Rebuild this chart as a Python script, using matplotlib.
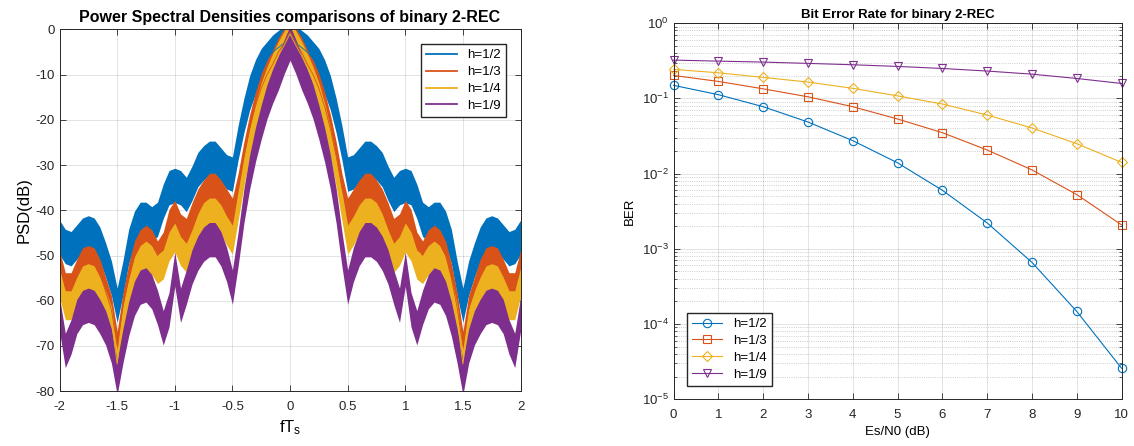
import numpy as np
import matplotlib
matplotlib.use('Agg')
import matplotlib.pyplot as plt
from matplotlib.lines import Line2D
from matplotlib.ticker import LogLocator, NullFormatter, FormatStrFormatter

plt.rcParams['font.family'] = ['Liberation Sans', 'DejaVu Sans']
plt.rcParams['mathtext.fontset'] = 'custom'
plt.rcParams['mathtext.rm'] = 'Liberation Sans'
plt.rcParams['mathtext.it'] = 'Liberation Sans:italic'
plt.rcParams['axes.unicode_minus'] = False

# --- Dados ---
labels = ['h=1/2', 'h=1/3', 'h=1/4', 'h=1/9']
colors = ['#0072BD', '#D95319', '#EDB120', '#7E2F8E']

# PSD (dB), metade esquerda f = -2 ... 0 (passo 0.05), espelhada depois
freq_half = np.round(np.arange(-2.0, 0.001, 0.05), 2)
psd_h2 = [-46, -48, -48.5, -47, -45.5, -45, -45.5, -47.5, -51, -55,
          -61, -55, -48, -44, -42, -42, -43, -42, -38, -35,
          -34.5, -35, -36.5, -34, -31, -29.5, -28.5, -28.5, -30, -31.5,
          -32, -25, -19, -14, -10.5, -8, -6.5, -5, -4, -3,
          -1]
psd_h3 = [-52, -57, -57, -54, -51.5, -51, -51.5, -54, -58, -62,
          -70, -61.5, -55, -50, -47.5, -46.5, -47.5, -50, -48, -43,
          -41, -44, -45, -41.5, -38.5, -36.5, -35, -35, -36.5, -38.5,
          -40.5, -35, -28, -22, -17, -13, -10, -7.7, -5, -3,
          -0.5]
psd_h4 = [-56, -61, -61, -58, -55.5, -55, -55.5, -58, -61, -64.5,
          -74, -64, -58.5, -53.5, -51, -50, -51, -53, -52, -48,
          -46, -49, -50.5, -47.5, -44, -41.5, -40.5, -40.5, -42, -44.5,
          -46.5, -39, -31.5, -25, -19.5, -15, -11.5, -8.5, -5.8, -3.5,
          -1]
psd_h9 = [-63, -71, -68, -63.5, -61.5, -61, -61.5, -63.5, -66, -70,
          -77, -70, -64, -59.5, -57, -56.5, -58, -61.5, -66, -62,
          -53, -61, -57, -52.5, -49.5, -47.5, -46.5, -46.5, -48.5, -52,
          -57, -48.5, -39, -31.5, -25.5, -20.5, -16, -12.5, -9.5, -6,
          -3]
# largura aproximada do ruido de cada curva (dB)
psd_spread = [3.8, 3.2, 3.2, 3.8]

# BER
esn0 = np.arange(0, 11)
ber_h2 = [0.149, 0.112, 0.0775, 0.0485, 0.0274, 0.0139, 0.0060, 0.00221, 0.00066, 0.000147, 2.58e-5]
ber_h3 = [0.202, 0.168, 0.134, 0.105, 0.0775, 0.0532, 0.035, 0.0206, 0.0112, 0.00526, 0.00208]
ber_h4 = [0.243, 0.219, 0.190, 0.165, 0.136, 0.108, 0.0841, 0.0601, 0.0404, 0.025, 0.0141]
ber_h9 = [0.323, 0.313, 0.304, 0.292, 0.280, 0.266, 0.250, 0.231, 0.210, 0.184, 0.158]
markers = ['o', 's', 'D', 'v']

dark = '#262626'


def espelhar(valores):
    v = np.asarray(valores, dtype=float)
    return np.concatenate([v, v[-2::-1]])


def estilo_eixo(ax):
    ax.tick_params(direction='in', top=True, right=True, colors=dark,
                   length=4, width=0.6, labelsize=9.5)
    ax.tick_params(axis='x', pad=7)
    ax.tick_params(which='minor', direction='in', top=True, right=True,
                   length=2, width=0.5, colors=dark)
    for s in ax.spines.values():
        s.set_color(dark)
        s.set_linewidth(0.7)


freq = np.concatenate([freq_half, -freq_half[-2::-1]])

fig = plt.figure(figsize=(11.34, 4.46), dpi=100)

# --- PSD ---
ax1 = fig.add_axes([0.0525, 0.123, 0.4065, 0.811])
for dados, sp, cor in zip([psd_h2, psd_h3, psd_h4, psd_h9], psd_spread, colors):
    c = espelhar(dados)
    ax1.fill_between(freq, c - sp, c + sp, color=cor, lw=0)
    ax1.plot(freq, c, color=cor, lw=0.6)
ax1.set_xlim(-2, 2)
ax1.set_ylim(-80, 0)
ax1.set_xticks(np.arange(-2, 2.01, 0.5))
ax1.set_yticks(np.arange(-80, 1, 10))
ax1.xaxis.set_major_formatter(FormatStrFormatter('%g'))
ax1.grid(True, color=dark, alpha=0.15, lw=0.6)
ax1.set_axisbelow(True)
estilo_eixo(ax1)
ax1.set_title('Power Spectral Densities comparisons of binary 2-REC',
              fontsize=11.5, fontweight='bold', pad=5)
ax1.set_xlabel('fT$_\\mathregular{s}$', fontsize=12, labelpad=4)
ax1.set_ylabel('PSD(dB)', fontsize=12, labelpad=3)
alcas = [Line2D([], [], color=c, lw=1.3) for c in colors]
ax1.legend(alcas, labels, loc='upper right', fontsize=9.5, fancybox=False,
           edgecolor=dark, framealpha=1, handlelength=2.3, labelspacing=0.35,
           borderaxespad=1.1)

# --- BER ---
ax2 = fig.add_axes([0.594, 0.105, 0.395, 0.843])
for dados, cor, mk, lab in zip([ber_h2, ber_h3, ber_h4, ber_h9], colors, markers, labels):
    ms = 5 if mk == 'D' else 6
    ax2.plot(esn0, dados, color=cor, marker=mk, ms=ms, mfc='none', mew=0.8,
             lw=0.8, label=lab, clip_on=False)
ax2.set_yscale('log')
ax2.set_xlim(0, 10)
ax2.set_ylim(1e-5, 1)
ax2.set_xticks(esn0)
ax2.yaxis.set_major_locator(LogLocator(base=10, numticks=10))
ax2.yaxis.set_minor_locator(LogLocator(base=10, subs=np.arange(2, 10), numticks=20))
ax2.yaxis.set_minor_formatter(NullFormatter())
ax2.grid(True, which='major', color=dark, alpha=0.15, lw=0.6)
ax2.grid(True, which='minor', axis='y', color=dark, alpha=0.3, lw=0.6, ls=':')
ax2.set_axisbelow(True)
estilo_eixo(ax2)
ax2.set_title('Bit Error Rate for binary 2-REC', fontsize=9.5,
              fontweight='bold', pad=4)
ax2.set_xlabel('Es/N0 (dB)', fontsize=9.5, labelpad=4)
ax2.set_ylabel('BER', fontsize=9.5, labelpad=4)
ax2.legend(loc='lower left', fontsize=9.5, fancybox=False, edgecolor=dark,
           framealpha=1, handlelength=2.3, labelspacing=0.35, borderaxespad=1.0)

fig.savefig('out.png', dpi=100)
